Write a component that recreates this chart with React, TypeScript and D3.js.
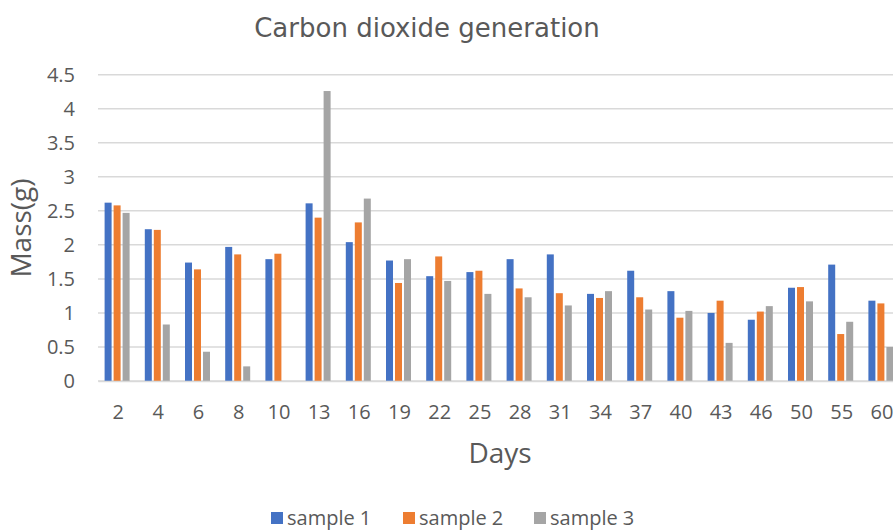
import React, { useEffect, useRef } from 'react';
import * as d3 from 'd3';

const days = ['2', '4', '6', '8', '10', '13', '16', '19', '22', '25', '28', '31', '34', '37', '40', '43', '46', '50', '55', '60'];
const sample1 = [2.62, 2.23, 1.74, 1.97, 1.79, 2.61, 2.04, 1.77, 1.54, 1.60, 1.79, 1.86, 1.28, 1.62, 1.32, 1.00, 0.90, 1.37, 1.71, 1.18];
const sample2 = [2.58, 2.22, 1.64, 1.86, 1.87, 2.40, 2.33, 1.44, 1.83, 1.62, 1.36, 1.29, 1.22, 1.23, 0.93, 1.18, 1.02, 1.38, 0.69, 1.14];
const sample3 = [2.47, 0.83, 0.43, 0.215, 0, 4.26, 2.68, 1.79, 1.47, 1.28, 1.23, 1.11, 1.32, 1.05, 1.03, 0.56, 1.10, 1.17, 0.87, 0.50];
const seriesNames = ['sample 1', 'sample 2', 'sample 3'];
const yTicks = [0, 0.5, 1, 1.5, 2, 2.5, 3, 3.5, 4, 4.5];

const colors = ['#4472c4', '#ed7d31', '#a5a5a5'];
const labelFont = '"Open Sans", "Noto Sans", sans-serif';

export default function App() {
  const ref = useRef<SVGSVGElement>(null);

  useEffect(() => {
    document.body.style.margin = '0';
    const svg = d3.select(ref.current);
    svg.selectAll('*').remove();

    const left = 98, right = 902, top = 74.7, bottom = 381;

    const x = d3.scaleBand().domain(days).range([left, right]).paddingInner(0).paddingOuter(0);
    const inner = d3.scaleBand().domain(seriesNames).range([0, 27]).padding(0);
    const y = d3.scaleLinear().domain([0, 4.5]).range([bottom, top]);

    // grid
    svg.append('g')
      .selectAll('line')
      .data(yTicks)
      .enter().append('line')
      .attr('x1', left).attr('x2', right)
      .attr('y1', d => y(d)).attr('y2', d => y(d))
      .attr('stroke', '#d9d9d9').attr('stroke-width', 1.5);

    // y labels
    svg.append('g')
      .selectAll('text')
      .data(yTicks)
      .enter().append('text')
      .attr('x', 75).attr('y', d => y(d))
      .attr('dy', '0.35em')
      .attr('text-anchor', 'end')
      .style('font-family', labelFont).style('font-size', '20px')
      .attr('fill', '#595959')
      .text(d => String(d));

    const all = [sample1, sample2, sample3];
    all.forEach((vals, si) => {
      svg.append('g')
        .selectAll('rect')
        .data(vals)
        .enter().append('rect')
        .attr('x', (d, i) => (x(days[i]) as number) + x.bandwidth() / 2 - 13.5 + (inner(seriesNames[si]) as number))
        .attr('width', inner.bandwidth() - 2)
        .attr('y', d => y(d))
        .attr('height', d => bottom - y(d))
        .attr('fill', colors[si]);
    });

    // x axis
    const xAxis = d3.axisBottom(x).tickSize(0).tickPadding(0);
    const gx = svg.append('g').attr('transform', `translate(0,${bottom})`).call(xAxis);
    gx.select('.domain').attr('stroke', '#d9d9d9').attr('stroke-width', 1.5);
    gx.selectAll('text')
      .attr('y', 38).attr('dy', '0')
      .style('font-family', labelFont).style('font-size', '20px')
      .attr('fill', '#595959');

    // titles
    svg.append('text')
      .attr('x', 427).attr('y', 37)
      .attr('text-anchor', 'middle')
      .style('font-family', '"DejaVu Sans", Verdana, sans-serif').style('font-size', '26px')
      .attr('fill', '#595959')
      .text('Carbon dioxide generation');

    svg.append('text')
      .attr('x', 500).attr('y', 463)
      .attr('text-anchor', 'middle')
      .style('font-family', labelFont).style('font-size', '28px')
      .attr('fill', '#595959')
      .text('Days');

    svg.append('text')
      .attr('transform', 'translate(21,228) rotate(-90)')
      .attr('text-anchor', 'middle')
      .attr('dy', '0.35em')
      .style('font-family', labelFont).style('font-size', '28px')
      .attr('fill', '#595959')
      .text('Mass(g)');

    // legend
    const legendX = [271, 403, 534];
    const lg = svg.append('g');
    seriesNames.forEach((name, i) => {
      lg.append('rect')
        .attr('x', legendX[i]).attr('y', 512)
        .attr('width', 12).attr('height', 12)
        .attr('fill', colors[i]);
      lg.append('text')
        .attr('x', legendX[i] + 16).attr('y', 525)
        .style('font-family', labelFont).style('font-size', '20px')
        .attr('fill', '#595959')
        .text(name);
    });
  }, []);

  return (
    <svg ref={ref} width={893} height={532} style={{ display: 'block', background: '#fff', overflow: 'hidden' }} />
  );
}
